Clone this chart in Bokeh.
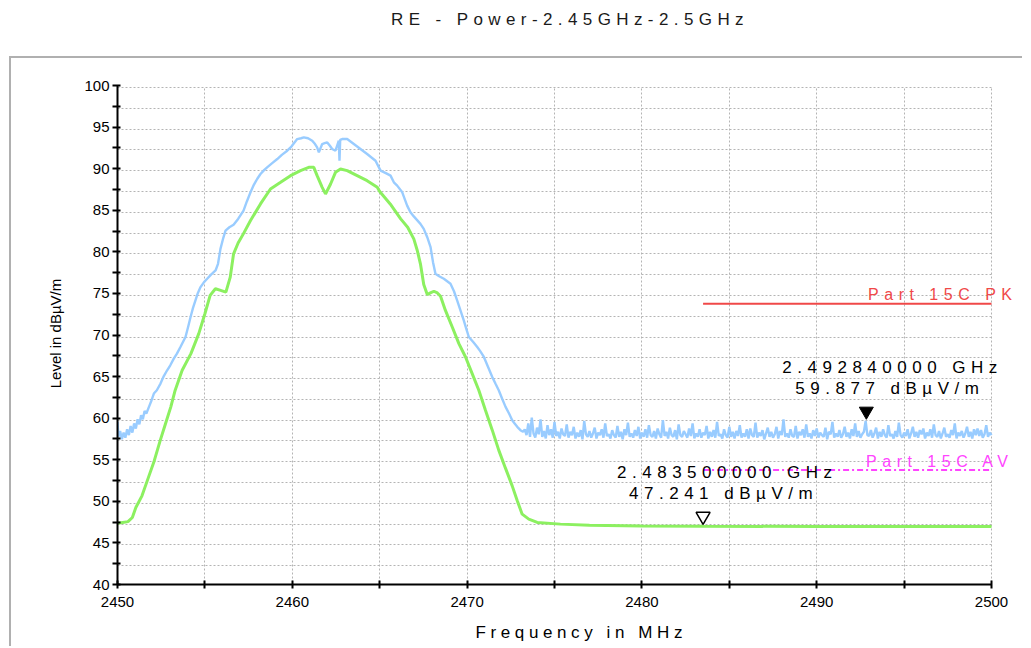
from bokeh.plotting import figure
from bokeh.models import FixedTicker, Label, Div, ColumnDataSource, Range1d
from bokeh.layouts import column
from bokeh.transform import dodge
from bokeh.embed import file_html
from bokeh.resources import INLINE

# ---------------- data ----------------
title_text = "RE - Power-2.45GHz-2.5GHz"
x_label = "Frequency in MHz"
y_label = "Level in dB\u00b5V/m"

x_tick_labels = [2450, 2460, 2470, 2480, 2490, 2500]
y_tick_labels = [40, 45, 50, 55, 60, 65, 70, 75, 80, 85, 90, 95, 100]

# average detector trace (green)
avg_freq = [2450.0, 2450.3, 2450.6, 2450.85, 2451.05, 2451.4, 2451.7, 2452.1, 2452.45, 2452.75,
            2453.05, 2453.3, 2453.7, 2454.2, 2454.65, 2455.0, 2455.3, 2455.6, 2455.9, 2456.2,
            2456.45, 2456.64, 2456.9, 2457.2, 2457.61, 2458.18, 2458.75, 2459.33, 2459.9, 2460.47,
            2460.94, 2461.23, 2461.42, 2461.71, 2461.9, 2462.19, 2462.47, 2462.76, 2463.14, 2463.71,
            2464.28, 2464.86, 2465.0, 2465.6, 2466.2, 2466.6, 2466.95, 2467.15, 2467.33, 2467.52,
            2467.72, 2467.9, 2468.1, 2468.3, 2468.48, 2468.76, 2469.15, 2469.53, 2469.91, 2470.29,
            2470.67, 2471.05, 2471.44, 2471.81, 2472.2, 2472.58, 2472.87, 2473.15, 2473.53, 2474.01,
            2475.34, 2477.0, 2480.0, 2483.5, 2490.0, 2495.0, 2500.0]
avg_level = [47.6, 47.7, 47.8, 48.3, 49.5, 50.9, 52.7, 55.1, 57.6, 59.6,
             61.6, 63.6, 66.0, 68.0, 70.4, 72.8, 75.0, 75.8, 75.6, 75.4,
             77.2, 80.0, 81.3, 82.4, 84.0, 86.0, 87.8, 88.6, 89.4, 90.0,
             90.4, 90.4, 89.4, 88.0, 87.2, 88.4, 89.8, 90.2, 90.0, 89.4,
             88.8, 88.0, 87.5, 86.0, 84.2, 83.2, 81.8, 80.4, 78.8, 76.3,
             75.1, 75.3, 75.5, 75.3, 74.9, 73.2, 71.2, 69.2, 67.6, 65.6,
             63.6, 61.2, 58.8, 56.4, 54.2, 52.1, 50.3, 48.7, 48.1, 47.7,
             47.5, 47.35, 47.28, 47.24, 47.22, 47.2, 47.2]

# peak detector trace (blue), emission part
pk_freq = [2450.0, 2450.05, 2450.15, 2450.25, 2450.35, 2450.45, 2450.55, 2450.65, 2450.75, 2450.85,
           2450.95, 2451.05, 2451.15, 2451.25, 2451.35, 2451.45, 2451.55, 2451.65, 2451.8, 2451.95,
           2452.08, 2452.25, 2452.46, 2452.65, 2452.84, 2453.02, 2453.22, 2453.4, 2453.6, 2453.89,
           2454.05, 2454.18, 2454.32, 2454.46, 2454.6, 2454.75, 2454.95, 2455.13, 2455.35, 2455.61,
           2455.75, 2455.89, 2456.05, 2456.18, 2456.4, 2456.64, 2456.9, 2457.21, 2457.4, 2457.61,
           2457.8, 2457.99, 2458.18, 2458.4, 2458.56, 2458.85, 2459.14, 2459.4, 2459.71, 2459.95,
           2460.28, 2460.5, 2460.66, 2460.9, 2461.14, 2461.3, 2461.42, 2461.52, 2461.71, 2461.85,
           2462.0, 2462.15, 2462.28, 2462.47, 2462.58, 2462.66, 2462.7, 2462.74, 2462.85, 2463.14,
           2463.52, 2463.9, 2464.28, 2464.76, 2465.05, 2465.35, 2465.62, 2465.81, 2466.0, 2466.29,
           2466.57, 2466.76, 2466.95, 2467.33, 2467.52, 2467.72, 2467.91, 2468.05, 2468.19, 2468.4,
           2468.67, 2469.05, 2469.25, 2469.43, 2469.62, 2469.81, 2469.95, 2470.1, 2470.35, 2470.58,
           2470.75, 2470.96, 2471.2, 2471.44, 2471.62, 2471.81, 2472.0, 2472.2, 2472.4, 2472.58,
           2472.72, 2472.87, 2473.05, 2473.2]
pk_level = [59.8, 58.0, 58.7, 57.7, 58.5, 57.9, 58.9, 58.2, 59.3, 58.5,
            59.6, 59.0, 60.1, 59.5, 60.6, 60.1, 61.1, 60.8, 61.6, 62.4,
            63.2, 63.6, 64.4, 65.3, 66.0, 66.6, 67.4, 68.0, 68.8, 70.0,
            71.3, 72.4, 73.5, 74.4, 75.3, 76.0, 76.6, 77.0, 77.5, 78.0,
            78.8, 80.6, 81.9, 82.8, 83.2, 83.5, 84.2, 85.2, 86.3, 87.4,
            88.3, 89.0, 89.6, 90.1, 90.4, 90.9, 91.4, 91.9, 92.4, 92.9,
            93.8, 93.9, 94.0, 93.9, 93.6, 93.2, 92.8, 92.2, 93.2, 93.3,
            93.4, 93.0, 92.6, 92.4, 93.1, 93.6, 91.2, 93.7, 93.8, 93.8,
            93.2, 92.6, 92.0, 91.2, 90.0, 89.7, 89.4, 88.6, 88.2, 87.4,
            85.8, 85.0, 84.5, 83.6, 83.0, 82.0, 80.8, 79.0, 77.6, 77.3,
            77.0, 76.4, 75.5, 74.4, 73.2, 72.0, 71.0, 70.0, 69.4, 68.8,
            68.3, 67.6, 66.4, 65.2, 64.4, 63.6, 62.6, 61.6, 60.8, 60.0,
            59.6, 59.2, 58.8, 58.6]

# peak detector trace (blue), noise floor sampled every 0.1 MHz from 2473.3 MHz
floor_start = 2473.3
floor_step = 0.1
pk_floor_level = [
    58.9, 58.2, 59.6, 58.0, 60.3, 58.4, 57.9, 59.1, 58.3, 60.1,
    58.0, 58.7, 57.8, 59.4, 58.2, 58.9, 57.9, 59.8, 58.1, 58.6,
    57.8, 59.0, 58.3, 58.1, 59.5, 57.9, 58.6, 58.2, 59.2, 57.8,
    58.5, 58.0, 58.8, 57.7, 59.9, 58.3, 58.0, 58.7, 57.9, 58.4,
    59.1, 57.8, 58.5, 58.2, 58.9, 57.9, 59.6, 58.1, 58.3, 57.8,
    58.8, 58.2, 57.9, 59.3, 58.0, 58.6, 57.7, 58.9, 58.2, 59.7,
    58.0, 58.4, 57.9, 58.8, 58.1, 59.2, 57.8, 58.5, 58.0, 58.9,
    57.9, 59.4, 58.2, 58.0, 58.7, 57.8, 59.0, 58.3, 57.9, 60.0,
    58.1, 58.6, 57.8, 59.1, 58.2, 58.0, 58.8, 57.7, 59.5, 58.2,
    58.0, 58.7, 58.3, 57.9, 59.0, 58.1, 59.6, 57.8, 58.4, 58.0,
    58.9, 57.9, 58.5, 58.2, 59.3, 57.8, 58.6, 58.0, 58.8, 57.9,
    59.8, 58.1, 58.3, 57.8, 58.9, 58.2, 57.9, 59.2, 58.0, 58.6,
    57.8, 58.7, 58.1, 59.4, 57.9, 58.4, 58.0, 58.9, 57.8, 59.0,
    58.2, 58.0, 59.7, 57.9, 58.5, 58.1, 58.8, 57.7, 58.4, 59.1,
    58.0, 58.6, 57.9, 58.3, 59.2, 57.8, 58.7, 58.2, 60.1, 58.0,
    58.4, 57.9, 58.9, 58.1, 58.0, 59.3, 57.8, 58.6, 58.2, 58.9,
    57.9, 59.5, 58.0, 58.4, 57.8, 58.8, 58.1, 59.0, 57.9, 58.5,
    58.2, 58.0, 59.1, 57.7, 58.6, 58.3, 59.8, 57.9, 58.4, 58.0,
    58.8, 57.9, 58.3, 59.2, 58.0, 58.5, 57.8, 58.9, 58.1, 59.6,
    58.0, 58.7, 57.9, 58.3, 58.6, 59.9, 58.2, 58.1, 58.8, 57.9,
    58.4, 59.1, 57.8, 58.6, 58.0, 58.9, 58.2, 57.9, 59.4, 58.1,
    58.3, 57.8, 58.7, 58.0, 59.7, 58.2, 57.9, 58.5, 58.1, 58.9,
    57.8, 58.4, 59.2, 58.0, 58.6, 57.9, 58.8, 58.3, 59.0, 57.8,
    58.5, 58.1, 58.9, 57.9, 59.5, 58.2, 58.0, 58.7, 57.8, 58.4,
    59.1, 58.0, 58.3, 57.9, 58.8, 58.2, 59.6, 57.8, 58.5, 58.1,
    58.7, 57.9, 58.4, 59.2, 58.0, 58.6, 57.8, 58.9, 58.2, 59.0,
    58.1, 58.8, 57.9, 58.3, 59.4, 58.0, 58.5, 58.2]

# limit lines
limit_names = ["Part 15C PK", "Part 15C AV"]
limit_level = [74.0, 54.0]
limit_start = [2483.5, 2483.5]
limit_end = [2500.0, 2500.0]

# markers: peak trace marker and average trace marker
marker_freq = [2492.84, 2483.5]
marker_level = [59.877, 47.241]

# ---------------- geometry / styles ----------------
FONT = "Liberation Sans"
BLUE = "#99CCFF"
GREEN = "#8CF060"
GRID = "#b4b4b4"
PANEL = "#b0b0b0"

W, H = 1013, 590
B_LEFT, B_TOP, B_BOTTOM = 106, 26, 62
FRAME_PX_W = 874        # px between 2450 and 2500
FRAME_PX_H = 499        # px between 40 and 100
EXTRA_RIGHT = W - B_LEFT - FRAME_PX_W
EXTRA_TOP = 3
XLABEL_SHIFT = 53       # narrower overlay so the spaced x title sits where the reference has it
px_mhz = FRAME_PX_W / (x_tick_labels[-1] - x_tick_labels[0])
px_db = FRAME_PX_H / (y_tick_labels[-1] - y_tick_labels[0])

xr = Range1d(x_tick_labels[0], x_tick_labels[-1] + EXTRA_RIGHT / px_mhz)
yr = Range1d(y_tick_labels[0], y_tick_labels[-1] + EXTRA_TOP / px_db)

floor_freq = [round(floor_start + floor_step * i, 1) for i in range(len(pk_floor_level))]
pk_all_f = pk_freq + floor_freq
pk_all_l = pk_level + pk_floor_level

x_minor = [(a + b) / 2 for a, b in zip(x_tick_labels[:-1], x_tick_labels[1:])]
y_minor = [(a + b) / 2 for a, b in zip(y_tick_labels[:-1], y_tick_labels[1:])]


def base_fig(x_range=xr, y_range=yr, width=W):
    return figure(width=width, height=H, x_range=x_range, y_range=y_range,
                  output_backend="svg", toolbar_location=None,
                  min_border_left=B_LEFT, min_border_right=0,
                  min_border_top=B_TOP, min_border_bottom=B_BOTTOM)


def overlay(fig, spacing=None):
    fig.margin = (-(H + 2), 0, 0, 9)
    st = {"border-top": "2px solid transparent", "border-left": "2px solid transparent"}
    if spacing:
        st["letter-spacing"] = spacing
    fig.styles = st
    fig.background_fill_alpha = 0
    fig.border_fill_alpha = 0
    fig.outline_line_color = None
    fig.xgrid.visible = False
    fig.ygrid.visible = False


# ---- main figure: grid, traces, limits, markers (letter-spaced texts) ----
p = base_fig()
p.margin = (0, 0, 0, 9)
p.styles = {"border-top": f"2px solid {PANEL}", "border-left": f"2px solid {PANEL}",
            "letter-spacing": "5.5px"}
p.background_fill_color = "white"
p.border_fill_color = "white"
p.outline_line_color = None

xt = FixedTicker(ticks=x_tick_labels, minor_ticks=x_minor)
yt = FixedTicker(ticks=y_tick_labels, minor_ticks=y_minor)
p.xgrid.ticker = xt
p.ygrid.ticker = yt
p.xgrid.cross_bounds = (y_tick_labels[0], y_tick_labels[-1])
p.ygrid.cross_bounds = (x_tick_labels[0], x_tick_labels[-1])
for g in (p.xgrid, p.ygrid):
    g.grid_line_color = GRID
    g.grid_line_dash = "2 2"
    g.grid_line_width = 1
    g.minor_grid_line_color = GRID
    g.minor_grid_line_dash = "2 2"
    g.minor_grid_line_width = 1
p.xaxis.visible = False
p.yaxis.visible = False

# traces
p.line(pk_all_f, pk_all_l, line_color=BLUE, line_width=2.4)
p.line(avg_freq, avg_level, line_color=GREEN, line_width=3)

# limit lines
p.segment(x0=[limit_start[0]], y0=[limit_level[0]], x1=[limit_end[0]], y1=[limit_level[0]],
          line_color="#F04848", line_width=2)
p.segment(x0=[limit_start[1]], y0=[limit_level[1]], x1=[limit_end[1]], y1=[limit_level[1]],
          line_color="#FF44FF", line_width=2, line_dash="6 3 2 3")
p.add_layout(Label(x=limit_start[0], y=limit_level[0], text=limit_names[0], x_offset=165, y_offset=9,
                   text_align="left", text_baseline="middle", text_font=FONT,
                   text_font_size="16px", text_color="#F04848"))
p.add_layout(Label(x=limit_start[1], y=limit_level[1], text=limit_names[1], x_offset=163, y_offset=9,
                   text_align="left", text_baseline="middle", text_font=FONT,
                   text_font_size="16px", text_color="#FF44FF"))

# markers
p.scatter(x="f", y=dodge("l", 1.2, range=p.y_range),
          source=ColumnDataSource(dict(f=marker_freq[:1], l=marker_level[:1])),
          marker="inverted_triangle", size=14, fill_color="black", line_color="black")
p.scatter(x="f", y=dodge("l", 1.2, range=p.y_range),
          source=ColumnDataSource(dict(f=marker_freq[1:], l=marker_level[1:])),
          marker="inverted_triangle", size=14, fill_color="white", line_color="black", line_width=1.5)

label_dx = [(-84, -71), (-86, -74)]
for (f, l), (dx1, dx2) in zip(zip(marker_freq, marker_level), label_dx):
    p.add_layout(Label(x=f, y=l, text=f"{f / 1000:.9f} GHz", x_offset=dx1, y_offset=54,
                       text_align="left", text_baseline="middle", text_font=FONT,
                       text_font_size="17px", text_color="black"))
    p.add_layout(Label(x=f, y=l, text=f"{l:.3f} dB\u00b5V/m", x_offset=dx2, y_offset=33,
                       text_align="left", text_baseline="middle", text_font=FONT,
                       text_font_size="17px", text_color="black"))

# ---- overlay: axes lines, ticks and tick labels (no letter spacing) ----
q = base_fig()
overlay(q)
q.xaxis.ticker = FixedTicker(ticks=x_tick_labels, minor_ticks=x_minor)
q.yaxis.ticker = FixedTicker(ticks=y_tick_labels, minor_ticks=y_minor)
q.xaxis.bounds = (x_tick_labels[0], x_tick_labels[-1])
q.yaxis.bounds = (y_tick_labels[0], y_tick_labels[-1])
q.yaxis.axis_label = y_label
for ax in (q.xaxis, q.yaxis):
    ax.axis_line_color = "black"
    ax.axis_line_width = 2
    ax.major_tick_line_color = "black"
    ax.minor_tick_line_color = "black"
    ax.major_tick_line_width = 2
    ax.minor_tick_line_width = 2
    ax.major_label_text_font = FONT
    ax.major_label_text_font_size = "15px"
    ax.major_label_text_color = "black"
    ax.axis_label_text_font = FONT
    ax.axis_label_text_font_style = "normal"
    ax.axis_label_text_color = "black"
q.xaxis.major_tick_in = 4
q.xaxis.major_tick_out = 4
q.xaxis.minor_tick_in = 4
q.xaxis.minor_tick_out = 4
q.xaxis.major_label_standoff = 8
q.yaxis.major_tick_in = 3
q.yaxis.major_tick_out = 5
q.yaxis.minor_tick_in = 3
q.yaxis.minor_tick_out = 5
q.yaxis.major_label_standoff = 3
q.yaxis.axis_label_standoff = 17
q.yaxis.axis_label_text_font_size = "15px"

# ---- overlay: letter-spaced x axis title ----
c = base_fig(x_range=Range1d(x_tick_labels[0], x_tick_labels[-1]),
             y_range=Range1d(y_tick_labels[0], y_tick_labels[-1]), width=W - XLABEL_SHIFT)
overlay(c, spacing="4.6px")
c.yaxis.visible = False
c.xaxis.ticker = FixedTicker(ticks=[])
c.xaxis.axis_line_color = None
c.xaxis.major_tick_line_color = None
c.xaxis.minor_tick_line_color = None
c.xaxis.major_tick_out = 0
c.xaxis.major_tick_in = 0
c.xaxis.major_label_standoff = 0
c.xaxis.axis_label = x_label
c.xaxis.axis_label_standoff = 42
c.xaxis.axis_label_text_font = FONT
c.xaxis.axis_label_text_font_size = "17px"
c.xaxis.axis_label_text_font_style = "normal"
c.xaxis.axis_label_text_color = "black"

title_div = Div(text=title_text, width=1023, height=56, margin=(0, 0, 0, 0),
                styles={"font-family": "'Liberation Sans', Arial, sans-serif", "font-size": "17px",
                        "letter-spacing": "5.4px", "text-align": "center", "padding-left": "117px",
                        "padding-top": "8px", "box-sizing": "border-box", "color": "#1a1a1a"})

layout = column(title_div, p, q, c, spacing=0)
open("out.html", "w").write(file_html(layout, INLINE))
